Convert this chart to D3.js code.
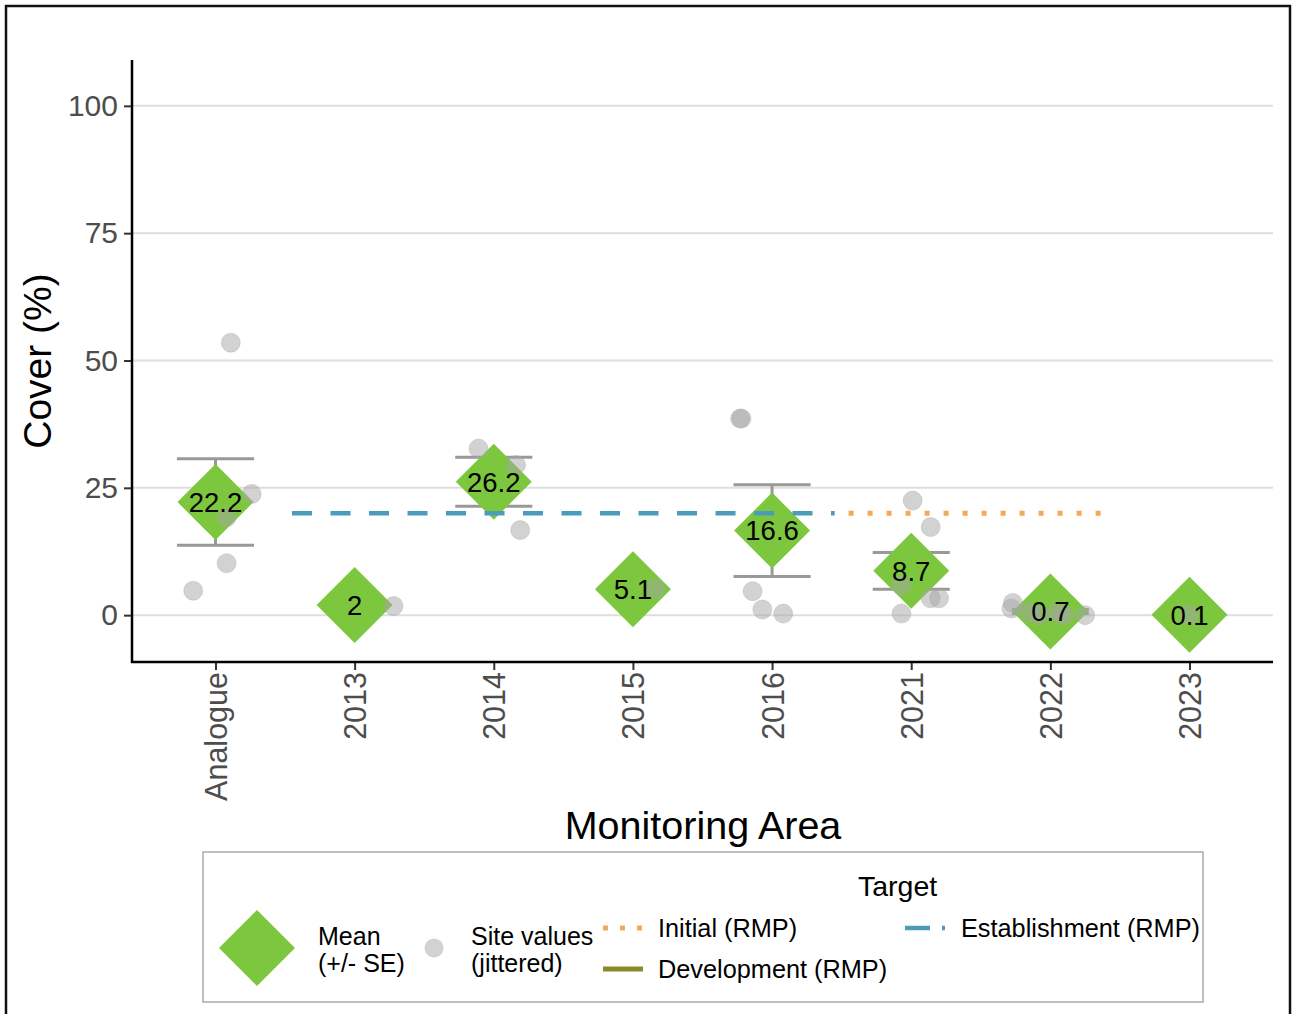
<!DOCTYPE html>
<html>
<head>
<meta charset="utf-8">
<script src="https://cdn.jsdelivr.net/npm/d3@7"></script>
<style>
  html, body { margin: 0; padding: 0; background: #fff; }
  svg { display: block; font-family: "Liberation Sans", Arial, sans-serif; }
</style>
</head>
<body>
<svg id="chart" width="1292" height="1014"></svg>
<script>
// Monitoring areas along the x axis
const categories = ["Analogue", "2013", "2014", "2015", "2016", "2021", "2022", "2023"];
// Mean cover (%) per area and its standard error (null = single site, no bar)
const meanCover = [22.2, 2, 26.2, 5.1, 16.6, 8.7, 0.7, 0.1];
const seCover = [8.5, null, 4.8, null, 9.0, 3.6, 0.4, null];
// Individual site values: [area, cover %, jitter offset in area widths]
const siteValues = [
  ["Analogue", 53.5, 0.11], ["Analogue", 23.8, 0.26], ["Analogue", 19.2, 0.08],
  ["Analogue", 10.2, 0.08], ["Analogue", 4.8, -0.16],
  ["2013", 1.8, 0.28],
  ["2014", 32.7, -0.11], ["2014", 29.5, 0.16], ["2014", 16.7, 0.19],
  ["2015", 5.2, 0.16],
  ["2016", 38.6, -0.23], ["2016", 38.6, -0.22], ["2016", 4.7, -0.14],
  ["2016", 1.1, -0.07], ["2016", 0.3, 0.08],
  ["2021", 22.5, 0.01], ["2021", 17.3, 0.14], ["2021", 5.8, -0.07],
  ["2021", 3.3, 0.14], ["2021", 3.3, 0.2], ["2021", 0.3, -0.07],
  ["2022", 2.4, -0.27], ["2022", 1.3, -0.28], ["2022", 0.6, -0.15],
  ["2022", 0.6, 0.05], ["2022", 0.0, 0.25], ["2022", 0.0, -0.08], ["2022", 0.0, 0.1],
  ["2023", 0.1, 0.0]
];
// Restoration targets: [name, value %, first area, last area]
const targets = [
  ["Establishment (RMP)", 20, "2013", "2016"],
  ["Initial (RMP)", 20, "2021", "2022"]
];
const yTicks = [0, 25, 50, 75, 100];

const targetStyle = {
  "Initial (RMP)": { color: "#f3a95a", dash: "5,14", keyDash: "5,12", width: 5 },
  "Development (RMP)": { color: "#8a8a2a", dash: null, keyDash: null, width: 5 },
  "Establishment (RMP)": { color: "#4b9bbb", dash: "20,18.5", keyDash: "25,12", width: 4.5 }
};

const GREEN = "#7cc73e";
const svg = d3.select("#chart");

// outer frame
svg.append("rect").attr("x", 6).attr("y", 6).attr("width", 1284).attr("height", 1020)
  .attr("fill", "none").attr("stroke", "#111").attr("stroke-width", 2.5);

const plotLeft = 132, plotRight = 1273, plotTop = 60, plotBottom = 662;
const x = d3.scalePoint().domain(categories).range([plotLeft, plotRight]).padding(0.6);
const y = d3.scaleLinear().domain([-9.2, 109]).range([plotBottom, plotTop]);
const step = x.step();

// grid
svg.append("g").selectAll("line").data(yTicks).join("line")
  .attr("x1", plotLeft).attr("x2", plotRight)
  .attr("y1", d => y(d)).attr("y2", d => y(d))
  .attr("stroke", "#dedede").attr("stroke-width", 2);

// y axis
const yAxis = svg.append("g").attr("transform", `translate(${plotLeft},0)`)
  .call(d3.axisLeft(y).tickValues(yTicks).tickSize(8).tickPadding(6));
yAxis.select(".domain").remove();
yAxis.selectAll(".tick line").attr("stroke", "#333").attr("stroke-width", 2);
yAxis.selectAll(".tick text").attr("fill", "#4d4d4d").attr("font-size", 30)
  .attr("font-family", "Liberation Sans, Arial, sans-serif");
svg.append("line").attr("x1", plotLeft).attr("x2", plotLeft).attr("y1", plotTop).attr("y2", plotBottom + 1)
  .attr("stroke", "#000").attr("stroke-width", 2.5);

// x axis
const xAxis = svg.append("g").attr("transform", `translate(0,${plotBottom})`)
  .call(d3.axisBottom(x).tickSize(8).tickPadding(0));
xAxis.select(".domain").remove();
xAxis.selectAll(".tick line").attr("stroke", "#333").attr("stroke-width", 2);
xAxis.selectAll(".tick text")
  .attr("fill", "#4d4d4d").attr("font-size", 30.5)
  .attr("font-family", "Liberation Sans, Arial, sans-serif")
  .attr("text-anchor", "end")
  .attr("transform", "translate(0,10) rotate(-90)")
  .attr("x", 0).attr("y", 0).attr("dy", "0.36em");
svg.append("line").attr("x1", plotLeft - 1).attr("x2", plotRight).attr("y1", plotBottom).attr("y2", plotBottom)
  .attr("stroke", "#000").attr("stroke-width", 2.5);

// axis titles
svg.append("text").attr("x", 703).attr("y", 839).attr("text-anchor", "middle")
  .attr("font-size", 39.5).attr("fill", "#000").text("Monitoring Area");
svg.append("text").attr("transform", "translate(51,361) rotate(-90)")
  .attr("text-anchor", "middle").attr("font-size", 39).attr("fill", "#000").text("Cover (%)");

const means = categories.map((c, i) => ({ cat: c, mean: meanCover[i], se: seCover[i] }));
const capHalf = 0.277 * step;
const diamondR = 38;

// error bars
const eb = svg.append("g").attr("stroke", "#999").attr("stroke-width", 3)
  .selectAll("g").data(means.filter(d => d.se != null)).join("g");
eb.append("line").attr("x1", d => x(d.cat)).attr("x2", d => x(d.cat))
  .attr("y1", d => y(d.mean + d.se)).attr("y2", d => y(d.mean - d.se));
eb.append("line").attr("x1", d => x(d.cat) - capHalf).attr("x2", d => x(d.cat) + capHalf)
  .attr("y1", d => y(d.mean + d.se)).attr("y2", d => y(d.mean + d.se));
eb.append("line").attr("x1", d => x(d.cat) - capHalf).attr("x2", d => x(d.cat) + capHalf)
  .attr("y1", d => y(d.mean - d.se)).attr("y2", d => y(d.mean - d.se));

// mean diamonds
const diamondPath = r => `M0,${-r}L${r},0L0,${r}L${-r},0Z`;
svg.append("g").selectAll("path").data(means).join("path")
  .attr("d", diamondPath(diamondR))
  .attr("transform", d => `translate(${x(d.cat)},${y(d.mean)})`)
  .attr("fill", GREEN);

// target lines
svg.append("g").selectAll("line").data(targets).join("line")
  .attr("x1", d => x(d[2]) - 0.45 * step).attr("x2", d => x(d[3]) + 0.45 * step)
  .attr("y1", d => y(d[1])).attr("y2", d => y(d[1]))
  .attr("stroke", d => targetStyle[d[0]].color)
  .attr("stroke-width", d => targetStyle[d[0]].width)
  .attr("stroke-dasharray", d => targetStyle[d[0]].dash);

// site values (jittered)
svg.append("g").selectAll("circle").data(siteValues).join("circle")
  .attr("cx", d => x(d[0]) + d[2] * step).attr("cy", d => y(d[1]))
  .attr("r", 9.5).attr("fill", "#a5a5a5").attr("fill-opacity", 0.5)
  .attr("stroke", "#a5a5a5").attr("stroke-opacity", 0.35);

// mean labels
svg.append("g").selectAll("text").data(means).join("text")
  .attr("x", d => x(d.cat)).attr("y", d => y(d.mean)).attr("dy", "0.36em")
  .attr("text-anchor", "middle").attr("font-size", 27.5).attr("fill", "#000")
  .text(d => d.mean);

// legend
const lg = svg.append("g");
lg.append("rect").attr("x", 203).attr("y", 852).attr("width", 1000).attr("height", 150)
  .attr("fill", "#fff").attr("stroke", "#aaa").attr("stroke-width", 1.5);
lg.append("path").attr("d", diamondPath(38)).attr("transform", "translate(257,948)").attr("fill", GREEN);
lg.append("text").attr("x", 318).attr("y", 945).attr("font-size", 25).text("Mean");
lg.append("text").attr("x", 318).attr("y", 972).attr("font-size", 25).text("(+/- SE)");
lg.append("circle").attr("cx", 434).attr("cy", 948).attr("r", 9.5)
  .attr("fill", "#a5a5a5").attr("fill-opacity", 0.5);
lg.append("text").attr("x", 471).attr("y", 945).attr("font-size", 25).text("Site values");
lg.append("text").attr("x", 471).attr("y", 972).attr("font-size", 25).text("(jittered)");
lg.append("text").attr("x", 858).attr("y", 896).attr("font-size", 28.5).text("Target");

const legendTargets = [
  ["Initial (RMP)", 603, 928, 658],
  ["Development (RMP)", 603, 969, 658],
  ["Establishment (RMP)", 905, 928, 961]
];
legendTargets.forEach(([name, kx, ky, tx]) => {
  const s = targetStyle[name];
  lg.append("line").attr("x1", kx).attr("x2", kx + 40).attr("y1", ky).attr("y2", ky)
    .attr("stroke", s.color).attr("stroke-width", s.width)
    .attr("stroke-dasharray", s.keyDash);
  lg.append("text").attr("x", tx).attr("y", ky).attr("dy", "0.36em")
    .attr("font-size", 25.3).text(name);
});
</script>
</body>
</html>
